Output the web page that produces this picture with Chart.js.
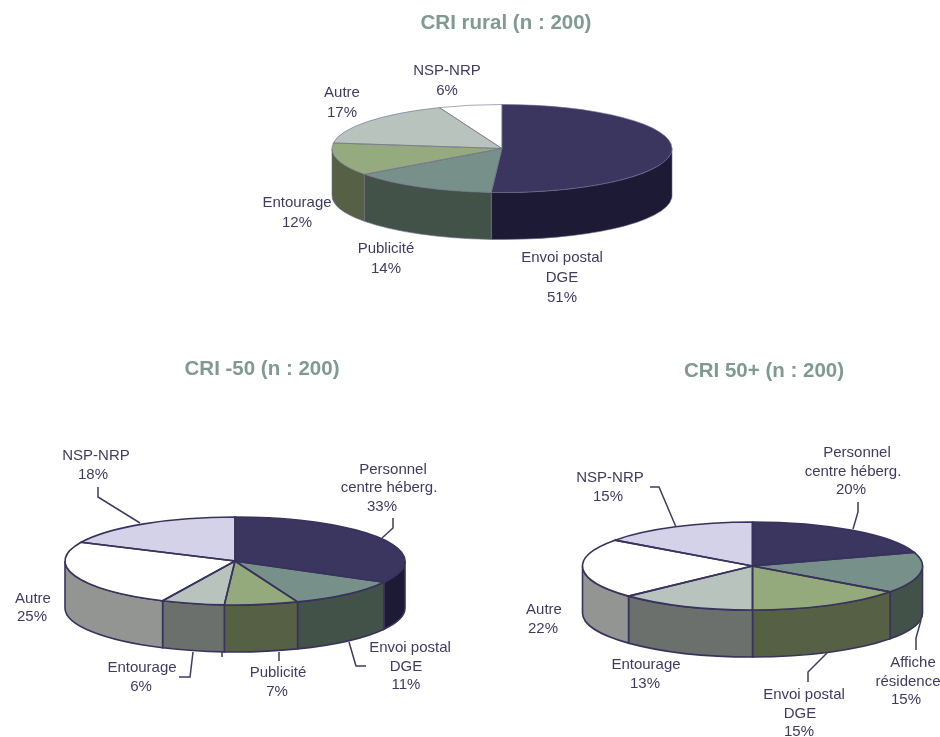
<!DOCTYPE html>
<html lang="fr">
<head>
<meta charset="utf-8">
<title>Sources d'information CRI</title>
<script src="https://cdn.jsdelivr.net/npm/chart.js@4/dist/chart.umd.min.js"></script>
<style>
    html, body { margin: 0; background: #fff; }
    #wrap { position: relative; width: 940px; height: 737px; overflow: hidden; }
    #wrap canvas { position: absolute; left: 0; top: 0; }
</style>
</head>
<body>
<div id="wrap">
    <canvas id="rural" width="940" height="737"></canvas>
    <canvas id="moins50" width="940" height="737"></canvas>
    <canvas id="plus50" width="940" height="737"></canvas>
</div>
<script>
// Values per pie, clockwise from 12 o'clock
const ruralNames = [['Envoi postal', 'DGE'], ['Publicité'], ['Entourage'], ['Autre'], ['NSP-NRP']];
const ruralValues = [51, 14, 12, 17, 6];

const moins50Names = [['Personnel', 'centre héberg.'], ['Envoi postal', 'DGE'], ['Publicité'], ['Entourage'], ['Autre'], ['NSP-NRP']];
const moins50Values = [33, 11, 7, 6, 25, 18];

const plus50Names = [['Personnel', 'centre héberg.'], ['Affiche', 'résidence'], ['Envoi postal', 'DGE'], ['Entourage'], ['Autre'], ['NSP-NRP']];
const plus50Values = [20, 15, 15, 13, 22, 15];

// Top face and side wall colours
const ruralTop = ['#3a3660', '#78908a', '#96aa80', '#b9c3be', '#ffffff'];
const ruralSide = ['#1c1a35', '#425249', '#566045', '#6c706d', '#939593'];
const sixTop = ['#3a3660', '#78908a', '#94a97c', '#b9c3be', '#ffffff', '#d4d2e8'];
const sixSide = ['#1c1a35', '#425249', '#566045', '#6c706d', '#939593', '#939593'];

// Text positions, one [x, y] per line of each label (the last line is the percentage)
const ruralTextPos = [
    [[562, 258], [562, 278], [562, 298]],
    [[386, 249], [386, 269]],
    [[297, 203], [297, 223]],
    [[342, 93], [342, 113]],
    [[447, 71], [447, 91]]
];
const moins50TextPos = [
    [[393, 470], [389, 488], [382, 507]],
    [[410, 648], [406, 667], [406, 685]],
    [[278, 673], [277, 692]],
    [[142, 668], [141, 687]],
    [[33, 599], [32, 617]],
    [[96, 456], [93, 475]]
];
const plus50TextPos = [
    [[857, 453], [853, 472], [851, 490]],
    [[913, 663], [908, 682], [906, 700]],
    [[804, 695], [800, 714], [799, 732]],
    [[646, 665], [645, 684]],
    [[544, 610], [543, 629]],
    [[610, 478], [608, 497]]
];

// Leader lines between labels and pie
const moins50Leaders = [
    [[98, 487], [98, 497], [140, 523]],
    [[393, 518], [393, 528], [382, 538]],
    [[349, 642], [356, 666], [366, 666]],
    [[279, 652], [279, 661]],
    [[193, 652], [190, 677], [179, 677]],
    [[222, 652], [222, 657]]
];
const plus50Leaders = [
    [[650, 487], [659, 487], [676, 527]],
    [[858, 502], [858, 512], [853, 529]],
    [[808, 682], [808, 672], [827, 653]],
    [[916, 650], [916, 638], [921, 620]]
];

const TEXT_COLOR = '#3f3b62';
const TITLE_COLOR = '#7f9a8e';

// Draws the pie as a tilted disc: the arcs come from Chart.js, squashed into an ellipse,
// and the wall, outlines, labels and title are added around them.
const tiltedPie = {
    id: 'tiltedPie',
    beforeDatasetsDraw(chart, args, opts) {
        const ctx = chart.ctx;
        const arcs = chart.getDatasetMeta(0).data;
        const cx = arcs[0].x, cy = arcs[0].y, rx = arcs[0].outerRadius, ry = rx * opts.tilt;

        // only the front half of the wall can be seen
        arcs.forEach((arc, i) => {
            const a = Math.max(arc.startAngle, 0);
            const b = Math.min(arc.endAngle, Math.PI);
            if (a >= b) return;
            ctx.beginPath();
            ctx.ellipse(cx, cy, rx, ry, 0, a, b);
            ctx.ellipse(cx, cy + opts.depth, rx, ry, 0, b, a, true);
            ctx.closePath();
            ctx.fillStyle = opts.sideColors[i];
            ctx.fill();
            ctx.lineWidth = opts.lineWidth;
            ctx.strokeStyle = opts.lineColor;
            ctx.stroke();
        });

        ctx.save();
        ctx.translate(cx, cy);
        ctx.scale(1, opts.tilt);
        ctx.translate(-cx, -cy);
    },
    afterDatasetsDraw(chart, args, opts) {
        const ctx = chart.ctx;
        ctx.restore();

        const arcs = chart.getDatasetMeta(0).data;
        const cx = arcs[0].x, cy = arcs[0].y, rx = arcs[0].outerRadius, ry = rx * opts.tilt;

        ctx.lineWidth = opts.lineWidth;
        ctx.strokeStyle = opts.lineColor;
        arcs.forEach(arc => {
            ctx.beginPath();
            ctx.moveTo(cx, cy);
            ctx.ellipse(cx, cy, rx, ry, 0, arc.startAngle, arc.endAngle);
            ctx.closePath();
            ctx.stroke();
        });

        ctx.lineWidth = 1.5;
        ctx.strokeStyle = TEXT_COLOR;
        opts.leaders.forEach(line => {
            ctx.beginPath();
            line.forEach(([x, y], i) => i ? ctx.lineTo(x, y) : ctx.moveTo(x, y));
            ctx.stroke();
        });

        ctx.textAlign = 'center';
        ctx.textBaseline = 'middle';
        ctx.fillStyle = TEXT_COLOR;
        ctx.font = '15px "Liberation Sans", Arial, sans-serif';
        chart.data.labels.forEach((lines, i) => {
            const text = [...lines, chart.data.datasets[0].data[i] + '%'];
            text.forEach((t, j) => ctx.fillText(t, opts.textPos[i][j][0], opts.textPos[i][j][1]));
        });

        ctx.fillStyle = TITLE_COLOR;
        ctx.font = 'bold 20.5px "Liberation Sans", Arial, sans-serif';
        ctx.fillText(opts.title, opts.titleX, opts.titleY);
    }
};

function drawPie(id, names, values, topColors, sideColors, cx, cy, extra) {
    return new Chart(document.getElementById(id), {
        type: 'pie',
        data: {
            labels: names,
            datasets: [{ data: values, backgroundColor: topColors, borderWidth: 0, clip: false }]
        },
        options: {
            responsive: false,
            animation: false,
            events: [],
            radius: 170,
            // a small chart area centred on the pie, the fixed radius overflows it
            layout: { padding: { left: cx - 50, right: 940 - cx - 50, top: cy - 50, bottom: 737 - cy - 50 } },
            plugins: {
                legend: { display: false },
                tooltip: { enabled: false },
                tiltedPie: { tilt: 44 / 170, depth: 47, sideColors: sideColors, ...extra }
            }
        },
        plugins: [tiltedPie]
    });
}

drawPie('rural', ruralNames, ruralValues, ruralTop, ruralSide, 502, 148.5, {
    title: 'CRI rural (n : 200)', titleX: 506, titleY: 23,
    textPos: ruralTextPos, leaders: [], lineColor: '#6d6c8a', lineWidth: 0.6
});
drawPie('moins50', moins50Names, moins50Values, sixTop, sixSide, 235, 561, {
    title: 'CRI -50 (n : 200)', titleX: 262, titleY: 369,
    textPos: moins50TextPos, leaders: moins50Leaders, lineColor: '#38335c', lineWidth: 1.6
});
drawPie('plus50', plus50Names, plus50Values, sixTop, sixSide, 752.5, 566, {
    title: 'CRI 50+ (n : 200)', titleX: 764, titleY: 371,
    textPos: plus50TextPos, leaders: plus50Leaders, lineColor: '#38335c', lineWidth: 1.6
});
</script>
</body>
</html>
